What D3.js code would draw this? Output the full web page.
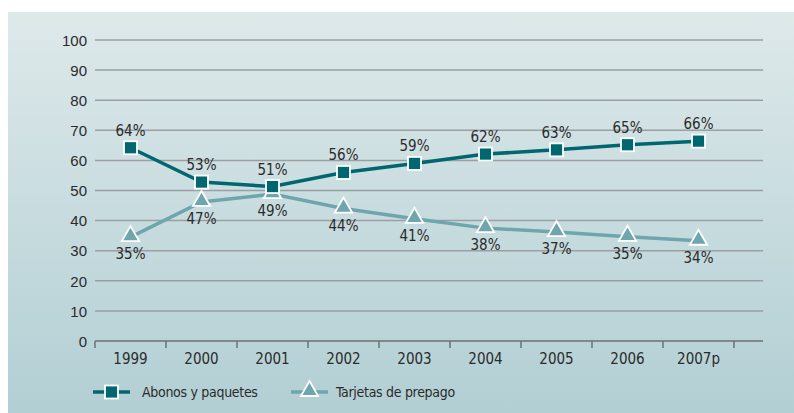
<!DOCTYPE html>
<head>
<meta charset="utf-8">
</head>
<style>
body { margin: 0; background: #fff; }
svg { display: block; font-family: "DejaVu Sans Condensed", "Liberation Sans", sans-serif; font-stretch: condensed; }
.grid line { stroke: #9a9fa2; stroke-width: 1.5; }
.axis--y path, .axis--y line { display: none; }
.axis text { fill: #2b2b2b; font-size: 15px; }
.axis--x path, .axis--x line { stroke: #6d7275; stroke-width: 1.5; }
.lbl { fill: #2b2b2b; font-size: 15px; text-anchor: middle; }
.legend text { fill: #2b2b2b; font-size: 14px; letter-spacing: -0.3px; }
</style>
<body>
<svg id="chart" width="794" height="413"></svg>

<script src="https://d3js.org/d3.v7.min.js"></script>
<script>

var years = ["1999", "2000", "2001", "2002", "2003", "2004", "2005", "2006", "2007p"];
var abonos = [64.2, 52.8, 51.3, 56, 59, 62.1, 63.5, 65.2, 66.4];
var abonosLabels = ["64%", "53%", "51%", "56%", "59%", "62%", "63%", "65%", "66%"];
var tarjetas = [34.5, 46.2, 48.8, 44, 40.6, 37.5, 36.2, 34.6, 33.3];
var tarjetasLabels = ["35%", "47%", "49%", "44%", "41%", "38%", "37%", "35%", "34%"];
var yTicks = [0, 10, 20, 30, 40, 50, 60, 70, 80, 90, 100];

var dark = "#006771", light = "#6fa6ae";

var svg = d3.select("#chart");

// background panel
var defs = svg.append("defs");
var grad = defs.append("linearGradient").attr("id", "bg")
    .attr("x1", 0).attr("y1", 0).attr("x2", 0).attr("y2", 1);
grad.append("stop").attr("offset", "0%").attr("stop-color", "#dee9ea");
grad.append("stop").attr("offset", "100%").attr("stop-color", "#b2cfd4");
svg.append("rect").attr("x", 8).attr("y", 12).attr("width", 786).attr("height", 401)
    .attr("fill", "url(#bg)");

var x = d3.scaleBand().domain(years).range([95, 734]);
var y = d3.scaleLinear().domain([0, 100]).range([341, 40]);
var cx = function(d, i) { return x(years[i]) + x.bandwidth() / 2; };

// gridlines
svg.append("g").attr("class", "grid")
  .selectAll("line")
  .data(yTicks.filter(function(t) { return t > 0; }))
  .enter().append("line")
    .attr("x1", 95).attr("x2", 763)
    .attr("y1", function(d) { return y(d); })
    .attr("y2", function(d) { return y(d); });

// y axis labels
svg.append("g").attr("class", "axis axis--y")
    .attr("transform", "translate(95,0)")
    .call(d3.axisLeft(y).tickValues(yTicks).tickSize(0).tickPadding(8))
    .selectAll("text").attr("dy", "0.35em");

// x axis
var xAxis = svg.append("g").attr("class", "axis axis--x")
    .attr("transform", "translate(0,341)");
xAxis.append("line").attr("x1", 95).attr("x2", 763).attr("y1", 0).attr("y2", 0)
    .attr("stroke", "#6d7275").attr("stroke-width", 1.5);
xAxis.selectAll(".tk")
  .data(d3.range(years.length + 1))
  .enter().append("line").attr("class", "tk")
    .attr("x1", function(i) { return 95 + i * x.bandwidth(); })
    .attr("x2", function(i) { return 95 + i * x.bandwidth(); })
    .attr("y1", 0).attr("y2", 7);
xAxis.selectAll("text")
  .data(years)
  .enter().append("text")
    .attr("x", function(d) { return x(d) + x.bandwidth() / 2; })
    .attr("y", 23)
    .attr("text-anchor", "middle")
    .text(function(d) { return d; });

var line = d3.line()
    .x(function(d, i) { return cx(d, i); })
    .y(function(d) { return y(d); });

// tarjetas series
svg.append("path").datum(tarjetas)
    .attr("d", line).attr("fill", "none")
    .attr("stroke", light).attr("stroke-width", 3.5);

var tri = d3.symbol().type(d3.symbolTriangle).size(130);
svg.selectAll(".tri")
  .data(tarjetas)
  .enter().append("path").attr("class", "tri")
    .attr("d", tri)
    .attr("transform", function(d, i) { return "translate(" + cx(d, i) + "," + (y(d) - 1) + ")"; })
    .attr("fill", light).attr("stroke", "#fff").attr("stroke-width", 1.8);

svg.selectAll(".lblT")
  .data(tarjetas)
  .enter().append("text").attr("class", "lbl")
    .attr("x", function(d, i) { return cx(d, i); })
    .attr("y", function(d) { return y(d) + 22; })
    .text(function(d, i) { return tarjetasLabels[i]; });

// abonos series
svg.append("path").datum(abonos)
    .attr("d", line).attr("fill", "none")
    .attr("stroke", dark).attr("stroke-width", 3.5);

svg.selectAll(".sq")
  .data(abonos)
  .enter().append("rect").attr("class", "sq")
    .attr("x", function(d, i) { return cx(d, i) - 6.5; })
    .attr("y", function(d) { return y(d) - 6.5; })
    .attr("width", 13).attr("height", 13)
    .attr("fill", dark).attr("stroke", "#fff").attr("stroke-width", 1.8);

svg.selectAll(".lblA")
  .data(abonos)
  .enter().append("text").attr("class", "lbl")
    .attr("x", function(d, i) { return cx(d, i); })
    .attr("y", function(d) { return y(d) - 12; })
    .text(function(d, i) { return abonosLabels[i]; });

// legend
var legend = svg.append("g").attr("class", "legend");
var lg1 = legend.append("g").attr("transform", "translate(93,392)");
lg1.append("line").attr("x1", 0).attr("x2", 37).attr("stroke", dark).attr("stroke-width", 3.5);
lg1.append("rect").attr("x", 12).attr("y", -6.5).attr("width", 13).attr("height", 13)
    .attr("fill", dark).attr("stroke", "#fff").attr("stroke-width", 1.8);
lg1.append("text").attr("x", 49).attr("dy", "0.35em").text("Abonos y paquetes");

var lg2 = legend.append("g").attr("transform", "translate(291,392)");
lg2.append("line").attr("x1", 0).attr("x2", 37).attr("stroke", light).attr("stroke-width", 3.5);
lg2.append("path").attr("d", tri).attr("transform", "translate(18.5,-1)")
    .attr("fill", light).attr("stroke", "#fff").attr("stroke-width", 1.8);
lg2.append("text").attr("x", 45).attr("dy", "0.35em").text("Tarjetas de prepago");

</script>
</body>
